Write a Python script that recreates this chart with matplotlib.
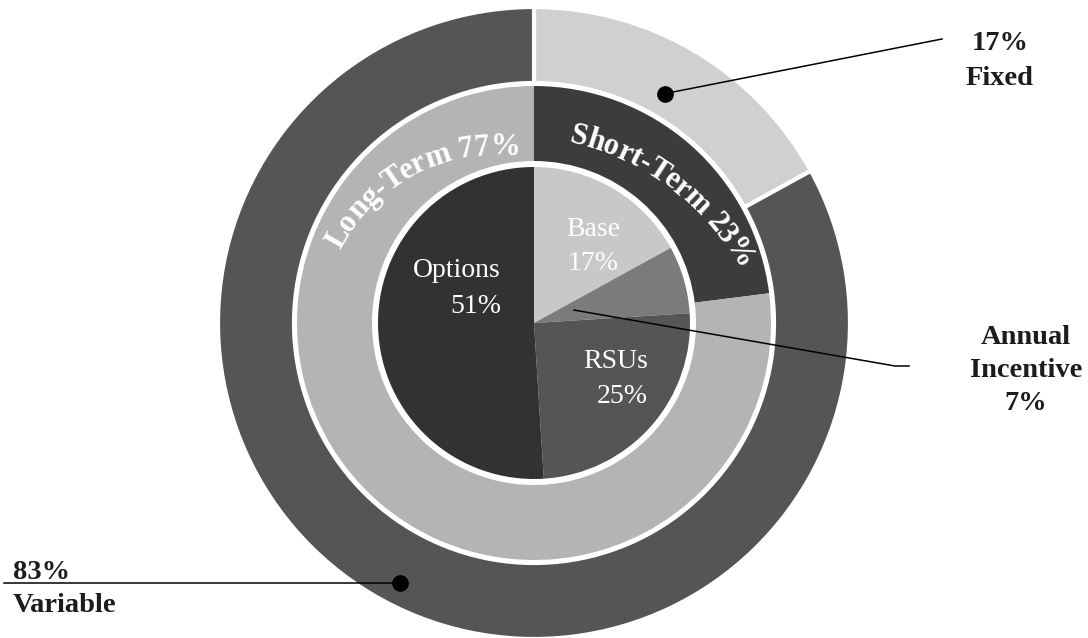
import matplotlib
matplotlib.use('Agg')
import matplotlib.pyplot as plt
from matplotlib.font_manager import FontProperties
import numpy as np

# ---- data ----
outer_labels = ['Fixed', 'Variable']
outer_vals = [17, 83]
mid_labels = ['Short-Term', 'Long-Term']
mid_vals = [23, 77]
inner_labels = ['Base', 'Annual Incentive', 'RSUs', 'Options']
inner_vals = [17, 7, 25, 51]

# ---- styles ----
outer_colors = ['#d0d0d0', '#555555']
mid_colors = ['#3c3c3c', '#b4b4b4']
inner_colors = ['#c8c8c8', '#7b7b7b', '#555555', '#323232']
serif = 'Liberation Serif'
ink = '#1c1c1c'

W, H = 1088, 638
cx, cy = 534, 315  # pie centre (pixel units, y up)

fig = plt.figure(figsize=(W / 100, H / 100), dpi=100)
ax = fig.add_axes([0, 0, 1, 1])

ax.pie(outer_vals, radius=316, center=(cx, cy), startangle=90, counterclock=False,
       colors=outer_colors, wedgeprops=dict(width=76, edgecolor='white', linewidth=3))
ax.pie(mid_vals, radius=237, center=(cx, cy), startangle=90, counterclock=False,
       colors=mid_colors, wedgeprops=dict(width=75, linewidth=0))
ax.pie(inner_vals, radius=156, center=(cx, cy), startangle=90, counterclock=False,
       colors=inner_colors, wedgeprops=dict(linewidth=0))

ax.set_xlim(0, W)
ax.set_ylim(0, H)
ax.axis('off')


def wedge_point(vals, i, frac, r):
    # point inside wedge i of a clockwise pie starting at 12 o'clock
    a = np.deg2rad(90 - 360 * (sum(vals[:i]) + frac * vals[i]) / sum(vals))
    return cx + r * np.cos(a), cy + r * np.sin(a)


# ---- curved ring labels ----
renderer = fig.canvas.get_renderer()


def advance(s, fp):
    # width incl. trailing spaces
    bar = renderer.get_text_width_height_descent('|', fp, ismath=False)[0]
    return renderer.get_text_width_height_descent(s + '|', fp, ismath=False)[0] - bar


def arc_text(s, center, r, mid_deg, fp, color):
    adv = [0.0] + [advance(s[:i + 1], fp) for i in range(len(s))]
    total = adv[-1]
    for i, ch in enumerate(s):
        if ch == ' ':
            continue
        d = (adv[i] + adv[i + 1]) / 2 - total / 2
        a = np.deg2rad(mid_deg) - d / r
        ax.text(center[0] + r * np.cos(a), center[1] + r * np.sin(a), ch,
                rotation=np.rad2deg(a) - 90, rotation_mode='anchor',
                ha='center', va='baseline', fontproperties=fp, color=color)


arc_fp = FontProperties(family=serif, weight='bold', size=22)
arc_text(f'{mid_labels[0]} {mid_vals[0]}%', (515, 248), 254, 52.8, arc_fp, 'white')
arc_text(f'{mid_labels[1]} {mid_vals[1]}%', (495, 310), 173, 117.5, arc_fp, 'white')

# ---- inner labels ----
inner_fp = FontProperties(family=serif, size=20)
ax.text(593, 402, inner_labels[0], ha='center', va='baseline', fontproperties=inner_fp, color='white')
ax.text(593, 368, f'{inner_vals[0]}%', ha='center', va='baseline', fontproperties=inner_fp, color='white')
ax.text(648, 270, inner_labels[2], ha='right', va='baseline', fontproperties=inner_fp, color='white')
ax.text(648, 235, f'{inner_vals[2]}%', ha='right', va='baseline', fontproperties=inner_fp, color='white')
ax.text(501, 361, inner_labels[3], ha='right', va='baseline', fontproperties=inner_fp, color='white')
ax.text(501, 325, f'{inner_vals[3]}%', ha='right', va='baseline', fontproperties=inner_fp, color='white')

# ---- callouts ----
call_fp = FontProperties(family=serif, weight='bold', size=20.5)

fx, fy = wedge_point(outer_vals, 0, 0.485, 264)
ax.plot([fx, 942], [fy, 599], color='black', lw=1.1)
ax.plot(fx, fy, 'o', color='black', ms=11)
ax.text(1000, 588, f'{outer_vals[0]}%', ha='center', va='baseline', fontproperties=call_fp, color=ink)
ax.text(1000, 553, outer_labels[0], ha='center', va='baseline', fontproperties=call_fp, color=ink)

vx, vy = wedge_point(outer_vals, 1, 0.489, 293)
ax.plot([4, vx], [vy, vy], color='black', lw=1.1)
ax.plot(vx, vy, 'o', color='black', ms=11)
ax.text(13, vy + 4, f'{outer_vals[1]}%', ha='left', va='baseline', fontproperties=call_fp, color=ink)
ax.text(13, vy - 29, outer_labels[1], ha='left', va='baseline', fontproperties=call_fp, color=ink)

ax_, ay_ = wedge_point(inner_vals, 1, 0.43, 42)
ax.plot([ax_, 895, 909], [ay_, 272, 272], color='black', lw=1.1)
words = inner_labels[1].split()
ax.text(1026, 294, words[0], ha='center', va='baseline', fontproperties=call_fp, color=ink)
ax.text(1026, 261, words[1], ha='center', va='baseline', fontproperties=call_fp, color=ink)
ax.text(1026, 228, f'{inner_vals[1]}%', ha='center', va='baseline', fontproperties=call_fp, color=ink)

fig.savefig('out.png', dpi=100)
